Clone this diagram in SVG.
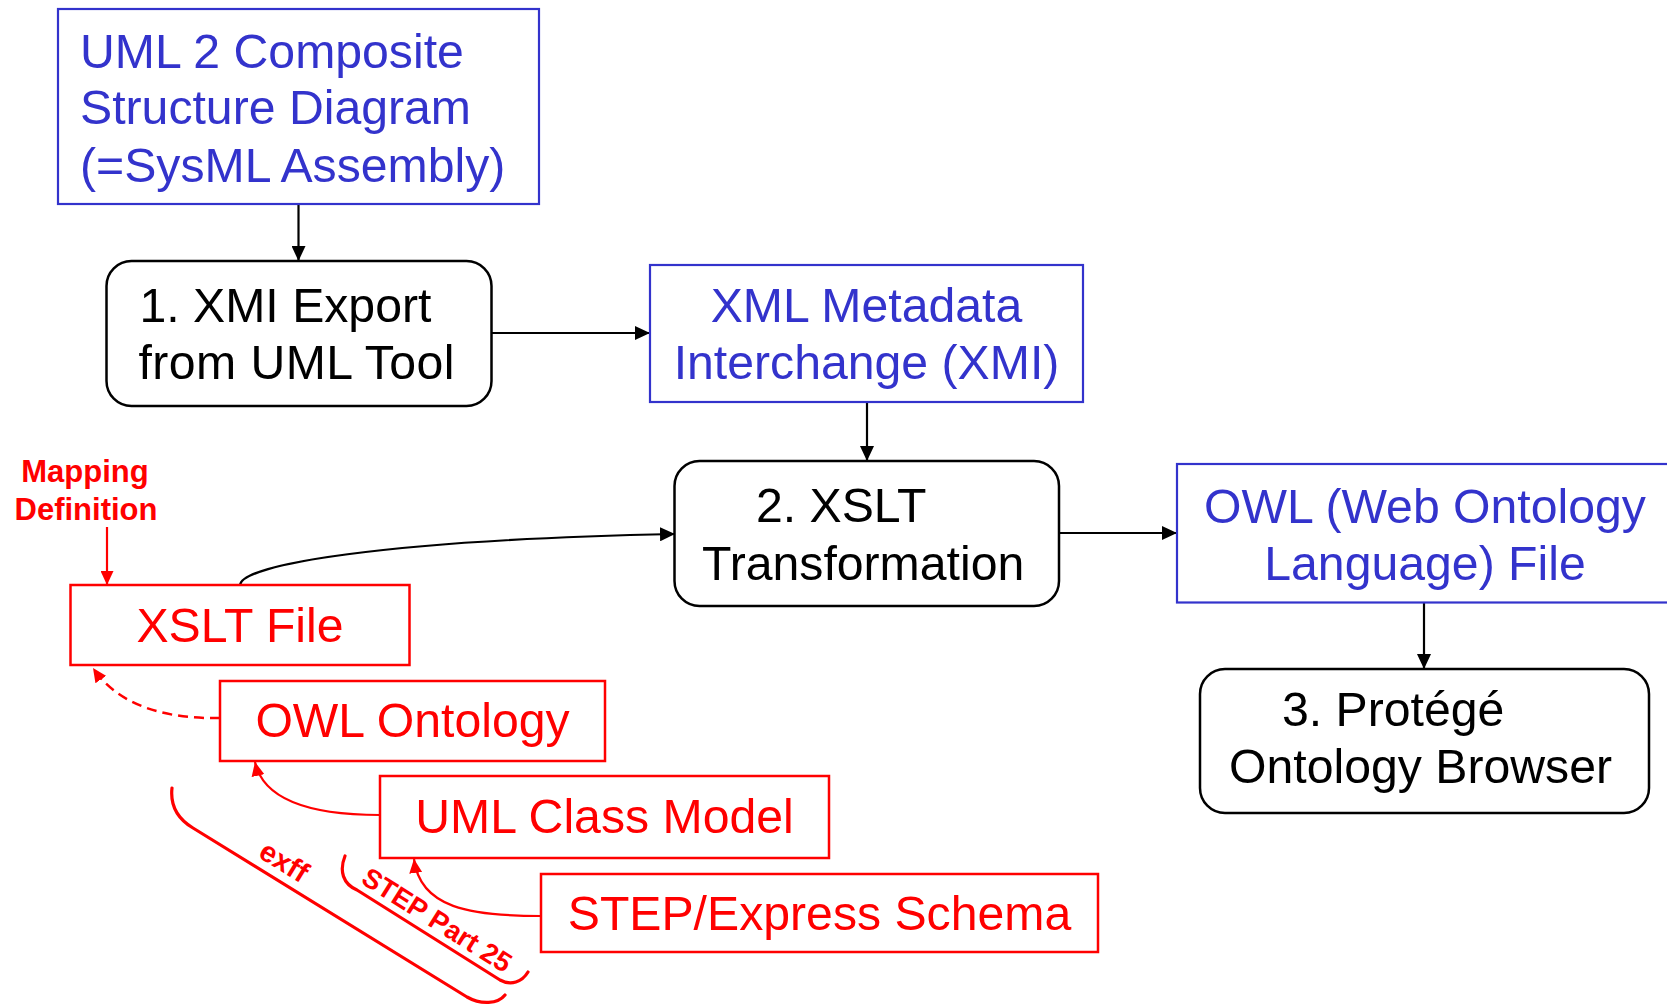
<svg xmlns="http://www.w3.org/2000/svg" width="1667" height="1005" viewBox="0 0 1667 1005">
  <style>
    .lbl { font-family: "Liberation Sans", Arial, sans-serif; font-size: 48.2px; }
    .blue { fill: #3333cc; }
    .blk { fill: #000; }
    .red { fill: #ff0000; }
    .note { font-family: "Liberation Sans", Arial, sans-serif; font-weight: bold; fill: #ff0000; }
    .bbox { fill: #fff; stroke: #3333cc; stroke-width: 2.2; }
    .kbox { fill: #fff; stroke: #000; stroke-width: 2.5; }
    .rbox { fill: #fff; stroke: #ff0000; stroke-width: 2.5; }
    .kline { fill: none; stroke: #000; stroke-width: 2.2; }
    .rline { fill: none; stroke: #ff0000; stroke-width: 2.2; }
    .rdash { fill: none; stroke: #ff0000; stroke-width: 2.5; stroke-dasharray: 10 6; }
    .brace { fill: none; stroke: #ff0000; stroke-width: 3.2; stroke-linecap: round; stroke-linejoin: round; }
  </style>
  <defs>
    <marker id="arrK" markerUnits="userSpaceOnUse" markerWidth="16" markerHeight="14" refX="15" refY="7" orient="auto">
      <path d="M0,0 L15,7 L0,14 z" fill="#000"/>
    </marker>
    <marker id="arrR" markerUnits="userSpaceOnUse" markerWidth="15" markerHeight="13" refX="14" refY="6.5" orient="auto">
      <path d="M0,0 L14,6.5 L0,13 z" fill="#ff0000"/>
    </marker>
  </defs>

  <rect width="1667" height="1005" fill="#fff"/>

  <!-- connectors -->
  <g id="connectors">
    <path class="kline" d="M298.5,204 L298.5,261" marker-end="url(#arrK)"/>
    <path class="kline" d="M491,333 L650,333" marker-end="url(#arrK)"/>
    <path class="kline" d="M867,402 L867,461" marker-end="url(#arrK)"/>
    <path class="kline" d="M1059,533 L1177,533" marker-end="url(#arrK)"/>
    <path class="kline" d="M1424,603 L1424,669" marker-end="url(#arrK)"/>
    <path class="kline" d="M240,585 C242,565 380,540 675,534" marker-end="url(#arrK)"/>
    <path class="rline" d="M107,527 L107,585" marker-end="url(#arrR)"/>
    <path class="rdash" d="M220,718 C170,719 120,708 93,668" marker-end="url(#arrR)"/>
    <path class="rline" d="M380,815 C330,815 265,808 255,762" marker-end="url(#arrR)"/>
    <path class="rline" d="M541,916 C470,916 420,908 414,859" marker-end="url(#arrR)"/>
  </g>

  <!-- source diagram -->
  <g id="node-uml2">
    <rect class="bbox" x="58" y="9" width="481" height="195"/>
    <text class="lbl blue" x="80" y="68">UML 2 Composite</text>
    <text class="lbl blue" x="80" y="124">Structure Diagram</text>
    <text class="lbl blue" x="80" y="182">(=SysML Assembly)</text>
  </g>

  <g id="node-export">
    <rect class="kbox" x="106.5" y="261" width="385" height="145" rx="25" ry="25"/>
    <text class="lbl blk" x="139.5" y="322">1. XMI Export</text>
    <text class="lbl blk" x="138.5" y="379" textLength="316" lengthAdjust="spacing">from UML Tool</text>
  </g>

  <g id="node-xmi">
    <rect class="bbox" x="650" y="265" width="433" height="137"/>
    <text class="lbl blue" x="866.5" y="322" text-anchor="middle">XML Metadata</text>
    <text class="lbl blue" x="866.5" y="379" text-anchor="middle">Interchange (XMI)</text>
  </g>

  <g id="node-xslt">
    <rect class="kbox" x="674.5" y="461" width="384.5" height="145" rx="25" ry="25"/>
    <text class="lbl blk" x="756" y="522">2. XSLT</text>
    <text class="lbl blk" x="702" y="580">Transformation</text>
  </g>

  <g id="node-owlfile">
    <rect class="bbox" x="1177" y="464" width="496" height="138.5"/>
    <text class="lbl blue" x="1425" y="523" text-anchor="middle">OWL (Web Ontology</text>
    <text class="lbl blue" x="1425" y="580" text-anchor="middle">Language) File</text>
  </g>

  <g id="node-protege">
    <rect class="kbox" x="1200" y="669" width="449" height="144" rx="25" ry="25"/>
    <text class="lbl blk" x="1282" y="726">3. Protégé</text>
    <text class="lbl blk" x="1229" y="783">Ontology Browser</text>
  </g>

  <!-- mapping inputs -->
  <g id="node-mapping">
    <text class="note" font-size="31" x="85" y="482" text-anchor="middle">Mapping</text>
    <text class="note" font-size="31" x="86" y="520" text-anchor="middle">Definition</text>
  </g>

  <g id="node-xsltfile">
    <rect class="rbox" x="70.5" y="585" width="339" height="80"/>
    <text class="lbl red" x="240" y="642" text-anchor="middle">XSLT File</text>
  </g>

  <g id="node-owlonto">
    <rect class="rbox" x="220" y="681" width="385" height="80"/>
    <text class="lbl red" x="412.5" y="737" text-anchor="middle">OWL Ontology</text>
  </g>

  <g id="node-umlclass">
    <rect class="rbox" x="380" y="776" width="449" height="82"/>
    <text class="lbl red" x="604.5" y="833" text-anchor="middle">UML Class Model</text>
  </g>

  <g id="node-step">
    <rect class="rbox" x="541" y="874" width="557" height="78"/>
    <text class="lbl red" x="819.5" y="930" text-anchor="middle">STEP/Express Schema</text>
  </g>

  <!-- brackets naming the conversion tools -->
  <g id="bracket-exff">
    <path class="brace" d="M172,788 C170,806 178,819 193,828 L467,997 C481,1005 498,1004 505,995"/>
    <text class="note" font-size="29" text-anchor="middle" transform="translate(279,870) rotate(31.7)">exff</text>
  </g>

  <g id="bracket-step25">
    <path class="brace" d="M345,856 C339,871 343,884 357,890 L500,980 C511,986 522,982 528,972"/>
    <text class="note" font-size="27.5" text-anchor="middle" transform="translate(432,928) rotate(32.2)">STEP Part 25</text>
  </g>
</svg>
